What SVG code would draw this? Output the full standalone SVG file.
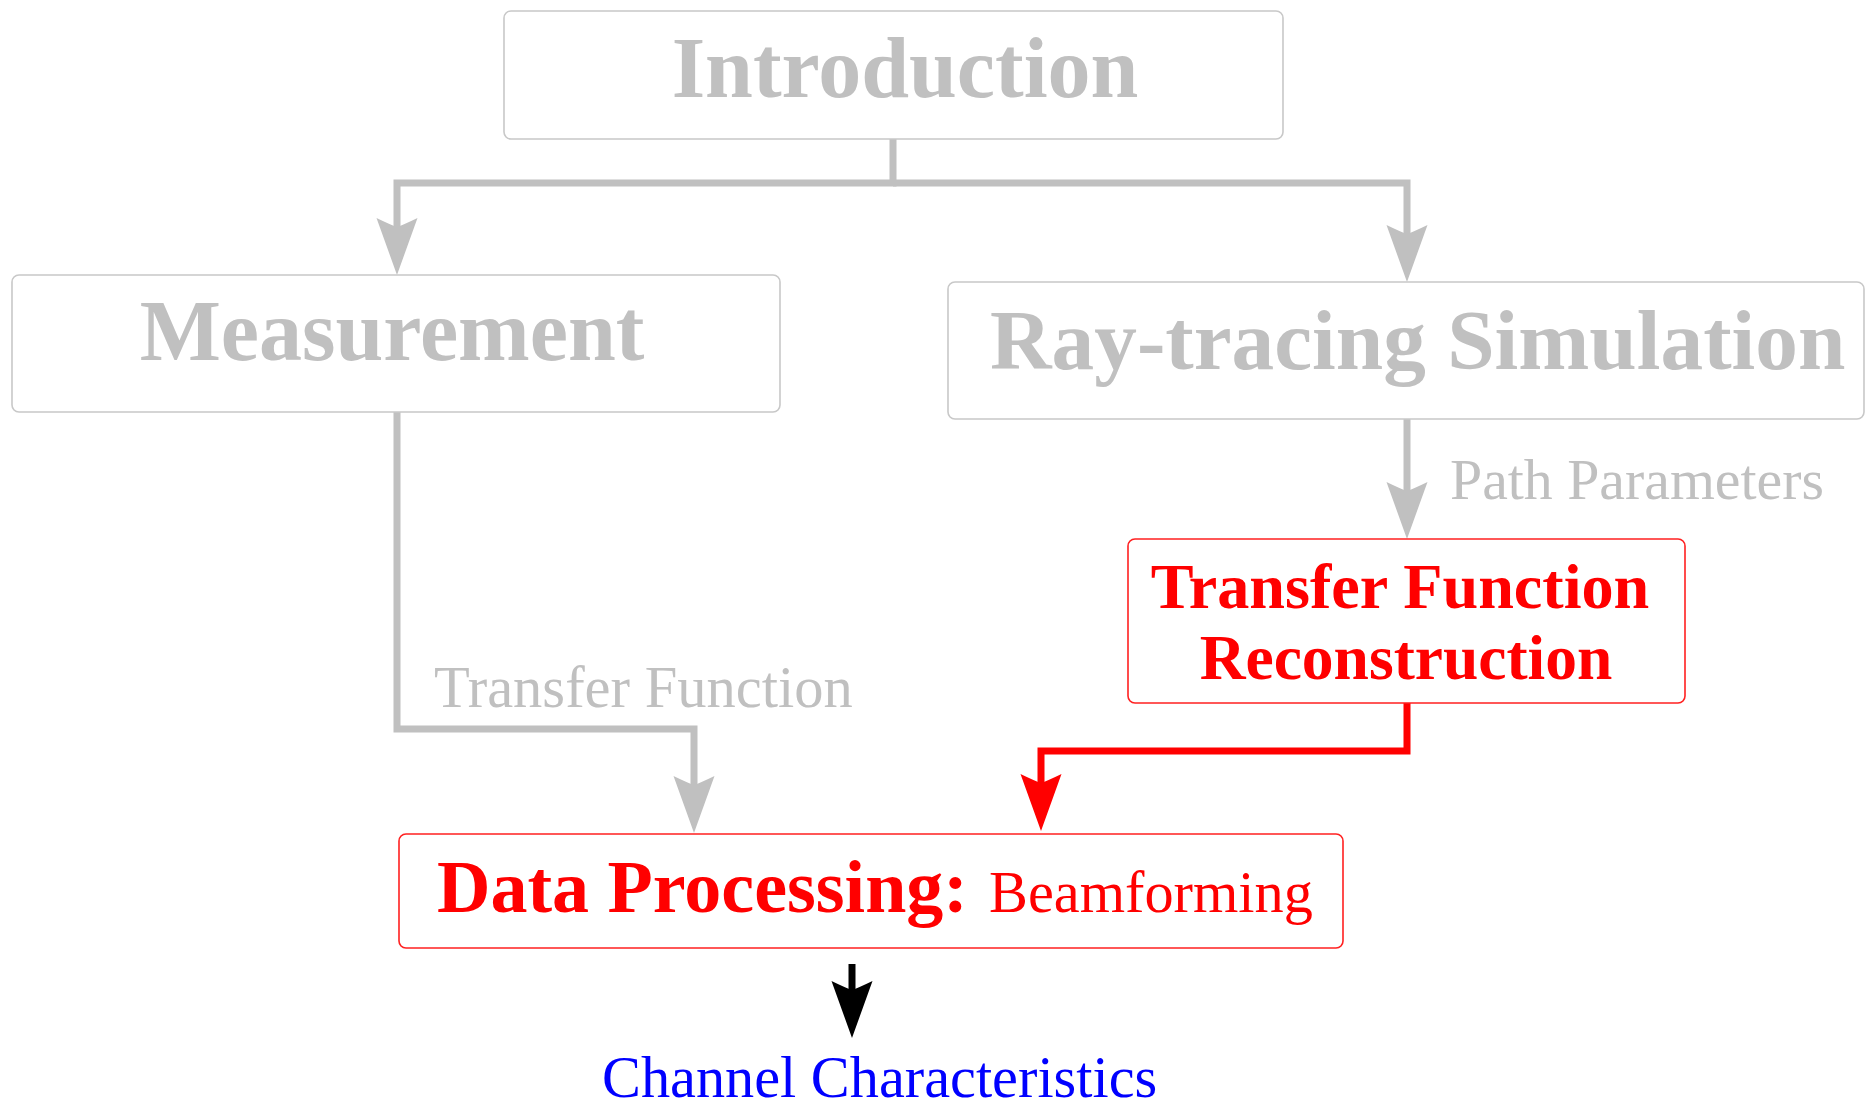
<svg xmlns="http://www.w3.org/2000/svg" width="1868" height="1111" viewBox="0 0 1868 1111">
<style>
.box{fill:#ffffff;stroke-width:1.6}
.gbox{stroke:#c8c8c8}
.rbox{stroke:#ff2020}
.t{font-family:"Liberation Serif","Times New Roman",serif}
.b{font-weight:bold}
.gray{fill:#c0c0c0}
.red{fill:#ff0000}
.blue{fill:#0000ff}
.con{fill:none;stroke-width:7;stroke-linejoin:miter}
</style>
<defs>
<marker id="ag" viewBox="-58 -22 60 44" refX="-48" refY="0" markerWidth="60" markerHeight="44" markerUnits="userSpaceOnUse" orient="auto">
<path d="M0,0 L-57,-20.5 Q-50,-6 -48,0 Q-50,6 -57,20.5 Z" fill="#c0c0c0"/>
</marker>
<marker id="ar" viewBox="-58 -22 60 44" refX="-48" refY="0" markerWidth="60" markerHeight="44" markerUnits="userSpaceOnUse" orient="auto">
<path d="M0,0 L-57,-20.5 Q-50,-6 -48,0 Q-50,6 -57,20.5 Z" fill="#ff0000"/>
</marker>
<marker id="ak" viewBox="-58 -22 60 44" refX="-48" refY="0" markerWidth="60" markerHeight="44" markerUnits="userSpaceOnUse" orient="auto">
<path d="M0,0 L-57,-20.5 Q-50,-6 -48,0 Q-50,6 -57,20.5 Z" fill="#000000"/>
</marker>
</defs>
<rect width="1868" height="1111" fill="#ffffff"/>
<g id="connectors">
<path class="con" stroke="#c0c0c0" d="M893,139 V183 H397 V227" marker-end="url(#ag)"/>
<path class="con" stroke="#c0c0c0" d="M893,183 H1407 V234" marker-end="url(#ag)"/>
<path class="con" stroke="#c0c0c0" d="M1407,419 V491" marker-end="url(#ag)"/>
<path class="con" stroke="#c0c0c0" d="M397,412 V729 H694 V785" marker-end="url(#ag)"/>
<path class="con" stroke="#ff0000" d="M1407,703 V751 H1041 V783" marker-end="url(#ar)"/>
<path class="con" stroke="#000000" d="M852,964 V990" marker-end="url(#ak)"/>
<text class="t gray" x="1450" y="499" font-size="57.8">Path Parameters</text>
<text class="t gray" x="434" y="707" font-size="58.5">Transfer Function</text>
</g>
<g id="introduction">
<rect class="box gbox" x="504" y="11" width="779" height="128" rx="7"/>
<text class="t b gray" x="905" y="97" font-size="86" text-anchor="middle">Introduction</text>
</g>
<g id="measurement">
<rect class="box gbox" x="12" y="275" width="768" height="137" rx="7"/>
<text class="t b gray" x="392" y="360" font-size="86" text-anchor="middle">Measurement</text>
</g>
<g id="raytracing">
<rect class="box gbox" x="948" y="282" width="916" height="137" rx="7"/>
<text class="t b gray" x="990" y="369" font-size="85.3">Ray-tracing Simulation</text>
</g>
<g id="tfr">
<rect class="box rbox" x="1128" y="539" width="557" height="164" rx="7"/>
<text class="t b red" x="1400" y="608" font-size="64.2" text-anchor="middle">Transfer Function</text>
<text class="t b red" x="1406" y="679" font-size="63.5" text-anchor="middle">Reconstruction</text>
</g>
<g id="dataprocessing">
<rect class="box rbox" x="399" y="834" width="944" height="114" rx="7"/>
<text class="t red" x="437" y="912"><tspan class="b" font-size="74">Data Processing:</tspan><tspan x="989" font-size="58.3">Beamforming</tspan></text>
</g>
<g id="channel">
<text class="t blue" x="602" y="1097" font-size="58.3">Channel Characteristics</text>
</g>
</svg>
